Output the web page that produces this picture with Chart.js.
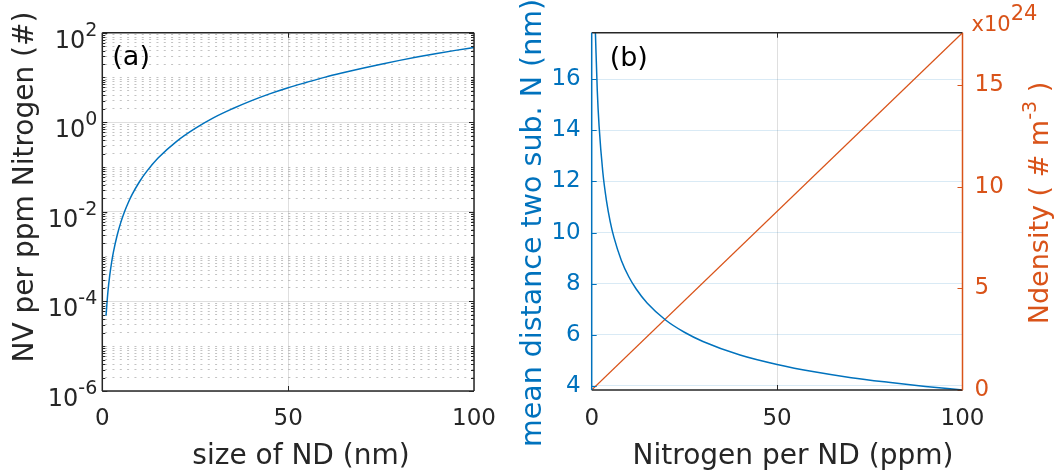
<!DOCTYPE html>
<html>
<head>
<meta charset="utf-8">
<title>NV per ppm nitrogen / mean distance</title>
<script src="https://cdn.jsdelivr.net/npm/chart.js@4.4.0/dist/chart.umd.min.js"></script>
<style>
  html, body { margin: 0; padding: 0; background: #fff; }
  #wrap { position: relative; width: 1054px; height: 472px; overflow: hidden; }
  #chartA { position: absolute; left: 0; top: 0; }
  #chartB { position: absolute; left: 512px; top: 0; }
</style>
</head>
<body>
<div id="wrap">
  <canvas id="chartA" width="512" height="472"></canvas>
  <canvas id="chartB" width="542" height="472"></canvas>
</div>
<script>
// Panel (a): NV per ppm nitrogen vs ND size
const sizeNm = [1, 1.5, 2, 2.5, 3, 4, 5, 6, 7, 8, 10, 12, 15, 20, 25, 30, 35, 40, 45, 50, 55, 60, 65, 70, 75, 80, 85, 90, 95, 100];
const nvPerPpm = [4.8e-5, 1.6e-4, 3.8e-4, 7.4e-4, 1.28e-3, 3.0e-3, 5.9e-3, 0.0102, 0.0162, 0.0242, 0.047, 0.081, 0.159, 0.376,
    0.73, 1.27, 2.0, 3.0, 4.3, 5.9, 7.8, 10.2, 12.9, 16.1, 19.8, 24.1, 28.9, 34.3, 40.3, 46.5];

// Panel (b): mean distance between two substitutional N, and N density
const ppmN = [1, 1.5, 2, 3, 4, 5, 6, 8, 10, 12, 15, 20, 25, 30, 40, 50, 60, 70, 80, 90, 100];
const meanDistNm = [17.82, 15.57, 14.15, 12.36, 11.23, 10.42, 9.81, 8.91, 8.27, 7.79, 7.23, 6.57, 6.10, 5.74,
    5.21, 4.84, 4.55, 4.32, 4.14, 3.98, 3.84];
const ppmDensity = [0, 100];
const nDensity = [0, 17.6e24];

// Tick labels
const xTicks = [0, 50, 100];
const logTicksA = [1e-6, 1e-4, 1e-2, 1, 1e2];
const distTicks = [4, 6, 8, 10, 12, 14, 16];
const densityTicks = [0, 5e24, 10e24, 15e24];

const FONT = "'DejaVu Sans', Verdana, sans-serif";
const DARK = '#262626';
const BLUE = '#0072BD';
const ORANGE = '#D95319';

// minor log grid: every k*10^n that is not a labelled tick
const logMinor = [];
for (let e = -6; e < 2; e++) {
    for (let k = 1; k <= 9; k++) {
        const v = k * Math.pow(10, e);
        if (!logTicksA.some(t => Math.abs(t - v) / t < 1e-9)) logMinor.push(v);
    }
}

function toPoints(xs, ys) {
    return xs.map((x, i) => ({ x: x, y: ys[i] }));
}

function fixTicks(values) {
    return scale => { scale.ticks = values.map(v => ({ value: v })); };
}

// text made of pieces (for superscripts); font sizes in px
function drawParts(ctx, parts, align) {
    let total = 0;
    parts.forEach(p => { ctx.font = p.size + 'px ' + FONT; total += ctx.measureText(p.text).width; });
    let x = align === 'right' ? -total : align === 'center' ? -total / 2 : 0;
    parts.forEach(p => {
        ctx.font = p.size + 'px ' + FONT;
        ctx.fillText(p.text, x, p.dy || 0);
        x += ctx.measureText(p.text).width;
    });
}

// Draws the axes box, inward tick marks and free text labels
const framePlugin = {
    id: 'frame',
    afterDraw(chart, args, opts) {
        const ctx = chart.ctx;
        const a = chart.chartArea;
        ctx.save();
        (opts.ticks || []).forEach(t => {
            const scale = chart.scales[t.scale];
            ctx.strokeStyle = t.color;
            ctx.lineWidth = 1;
            ctx.beginPath();
            t.values.forEach(v => {
                const p = Math.round(scale.getPixelForValue(v)) + 0.5;
                t.sides.forEach(side => {
                    if (side === 'bottom') { ctx.moveTo(p, a.bottom); ctx.lineTo(p, a.bottom - t.len); }
                    if (side === 'top') { ctx.moveTo(p, a.top); ctx.lineTo(p, a.top + t.len); }
                    if (side === 'left') { ctx.moveTo(a.left, p); ctx.lineTo(a.left + t.len, p); }
                    if (side === 'right') { ctx.moveTo(a.right, p); ctx.lineTo(a.right - t.len, p); }
                });
            });
            ctx.stroke();
        });
        const e = opts.edges;
        ctx.lineWidth = 1.5;
        const edge = (color, x1, y1, x2, y2) => {
            ctx.strokeStyle = color;
            ctx.beginPath(); ctx.moveTo(x1, y1); ctx.lineTo(x2, y2); ctx.stroke();
        };
        edge(e.top, a.left, a.top, a.right, a.top);
        edge(e.bottom, a.left, a.bottom, a.right, a.bottom);
        edge(e.left, a.left, a.top, a.left, a.bottom);
        edge(e.right, a.right, a.top, a.right, a.bottom);

        const texts = typeof opts.texts === 'function' ? opts.texts(chart) : (opts.texts || []);
        texts.forEach(t => {
            ctx.save();
            ctx.fillStyle = t.color;
            ctx.textBaseline = 'alphabetic';
            ctx.textAlign = 'left';
            ctx.translate(t.x, t.y);
            if (t.rotate) ctx.rotate(t.rotate);
            drawParts(ctx, t.parts, t.align || 'left');
            ctx.restore();
        });
        ctx.restore();
    }
};

// ---------- Panel (a) ----------
new Chart(document.getElementById('chartA'), {
    type: 'line',
    data: {
        datasets: [{
            data: toPoints(sizeNm, nvPerPpm),
            borderColor: BLUE,
            borderWidth: 1.5,
            pointRadius: 0,
            cubicInterpolationMode: 'monotone'
        }]
    },
    options: {
        responsive: false,
        animation: false,
        layout: { padding: { top: 32.7, right: 38, left: 0, bottom: 0 } },
        plugins: {
            legend: { display: false },
            tooltip: { enabled: false },
            frame: {
                edges: { top: DARK, bottom: DARK, left: DARK, right: DARK },
                ticks: [
                    { scale: 'y', values: logTicksA, sides: ['left', 'right'], len: 5, color: DARK },
                    { scale: 'y', values: logMinor, sides: ['left', 'right'], len: 3, color: DARK },
                    { scale: 'x', values: [50], sides: ['bottom', 'top'], len: 5, color: DARK }
                ],
                texts: chart => {
                    const a = chart.chartArea;
                    const ys = chart.scales.y;
                    const list = [
                        { parts: [{ text: '(a)', size: 27 }], color: '#000', x: a.left + 10, y: 65 },
                        { parts: [{ text: 'size of ND (nm)', size: 28 }], color: DARK, align: 'center', x: 301, y: 464 },
                        { parts: [{ text: 'NV per ppm Nitrogen (#)', size: 28 }], color: DARK, align: 'center',
                          rotate: -Math.PI / 2, x: 33, y: 187 }
                    ];
                    logTicksA.forEach(v => {
                        const exp = String(Math.round(Math.log10(v)));
                        list.push({ parts: [{ text: '10', size: 24 }, { text: exp, size: 19, dy: -12 }],
                            color: DARK, align: 'right', x: a.left - 5, y: ys.getPixelForValue(v) + 15 });
                    });
                    return list;
                }
            }
        },
        scales: {
            x: {
                type: 'linear', min: 0, max: 100,
                afterBuildTicks: fixTicks(xTicks),
                afterFit: s => { s.height = 81; },
                grid: { color: 'rgba(38,38,38,0.15)', drawTicks: false },
                border: { display: false },
                ticks: { color: DARK, font: { family: FONT, size: 23 }, padding: 14, maxRotation: 0 }
            },
            y: {
                type: 'logarithmic', min: 1e-6, max: 1e2,
                afterBuildTicks: fixTicks(logTicksA),
                afterFit: s => { s.width = 102.3; },
                grid: { color: 'rgba(38,38,38,0.15)', drawTicks: false },
                border: { display: false },
                ticks: { display: false }
            },
            yMinor: {
                type: 'logarithmic', min: 1e-6, max: 1e2, position: 'left',
                afterBuildTicks: fixTicks(logMinor),
                afterFit: s => { s.width = 0; },
                grid: { color: 'rgba(38,38,38,0.28)', drawTicks: false },
                border: { display: false, dash: [2, 5.33], dashOffset: 4.2 },
                ticks: { display: false }
            }
        }
    },
    plugins: [framePlugin]
});

// ---------- Panel (b) ----------
new Chart(document.getElementById('chartB'), {
    type: 'line',
    data: {
        datasets: [{
            data: toPoints(ppmN, meanDistNm),
            borderColor: BLUE,
            borderWidth: 1.5,
            pointRadius: 0,
            cubicInterpolationMode: 'monotone',
            yAxisID: 'y'
        }, {
            data: toPoints(ppmDensity, nDensity),
            borderColor: ORANGE,
            borderWidth: 1.2,
            pointRadius: 0,
            yAxisID: 'yR'
        }]
    },
    options: {
        responsive: false,
        animation: false,
        layout: { padding: { top: 32.7, right: 0, left: 0, bottom: 0 } },
        plugins: {
            legend: { display: false },
            tooltip: { enabled: false },
            frame: {
                edges: { top: DARK, bottom: DARK, left: BLUE, right: ORANGE },
                ticks: [
                    { scale: 'y', values: distTicks, sides: ['left'], len: 5, color: BLUE },
                    { scale: 'yR', values: densityTicks, sides: ['right'], len: 5, color: ORANGE },
                    { scale: 'x', values: [50], sides: ['bottom', 'top'], len: 5, color: DARK }
                ],
                texts: chart => {
                    const a = chart.chartArea;
                    return [
                        { parts: [{ text: '(b)', size: 27 }], color: '#000', x: a.left + 18, y: 66 },
                        { parts: [{ text: 'x10', size: 21 }, { text: '24', size: 21, dy: -11 }], color: ORANGE, x: a.right + 9, y: 31 },
                        { parts: [{ text: 'Nitrogen per ND (ppm)', size: 28 }], color: DARK, align: 'center', x: 281, y: 464 },
                        { parts: [{ text: 'mean distance two sub. N (nm)', size: 28.5 }], color: BLUE, align: 'center',
                          rotate: -Math.PI / 2, x: 28.5, y: 223 },
                        { parts: [{ text: 'Ndensity ( # m', size: 27 }, { text: '-3', size: 19, dy: -12 }, { text: ' )', size: 27 }],
                          color: ORANGE, align: 'center', rotate: -Math.PI / 2, x: 536, y: 203 }
                    ];
                }
            }
        },
        scales: {
            x: {
                type: 'linear', min: 0, max: 100,
                afterBuildTicks: fixTicks(xTicks),
                afterFit: s => { s.height = 82; },
                grid: { color: 'rgba(38,38,38,0.15)', drawTicks: false },
                border: { display: false },
                ticks: { color: DARK, font: { family: FONT, size: 23 }, padding: 15, maxRotation: 0 }
            },
            y: {
                type: 'linear', min: 3.84, max: 17.82, position: 'left',
                afterBuildTicks: fixTicks(distTicks),
                afterFit: s => { s.width = 79.7; },
                grid: { color: 'rgba(0,114,189,0.15)', drawTicks: false },
                border: { display: false },
                ticks: { color: BLUE, font: { family: FONT, size: 23 }, padding: 11 }
            },
            yR: {
                type: 'linear', min: 0, max: 17.6e24, position: 'right',
                afterBuildTicks: fixTicks(densityTicks),
                afterFit: s => { s.width = 91.5; },
                grid: { display: false, drawTicks: false },
                border: { display: false },
                ticks: { color: ORANGE, font: { family: FONT, size: 23 }, padding: 12, callback: v => String(Math.round(v / 1e24)) }
            }
        }
    },
    plugins: [framePlugin]
});
</script>
</body>
</html>
